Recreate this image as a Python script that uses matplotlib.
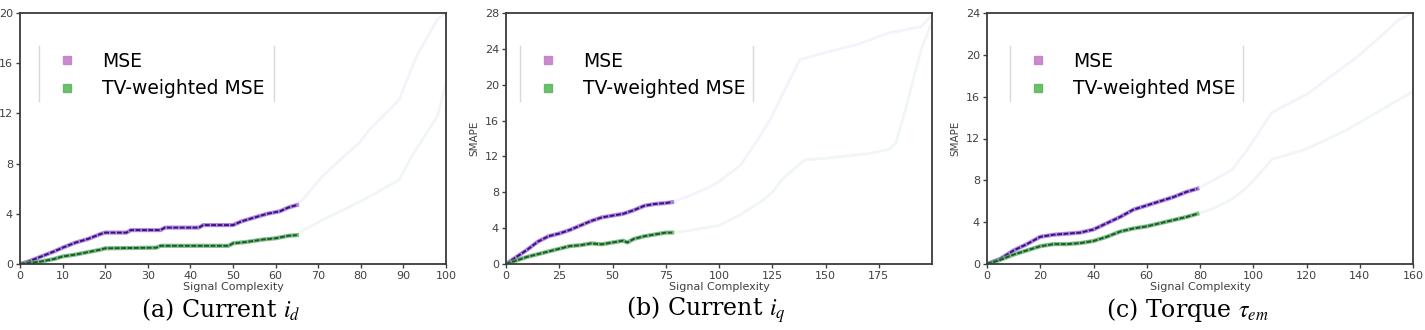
import matplotlib.pyplot as plt
from matplotlib.lines import Line2D

# panel (a): current i_d
a_x_mse = [0, 2, 5, 8, 10, 13, 16, 19, 20, 25, 26, 33, 34, 42, 43, 50, 52, 55, 58, 61, 63, 65,
           66, 71, 80, 82, 89, 93, 98, 100]
a_y_mse = [0, 0.2, 0.6, 1.0, 1.3, 1.7, 2.0, 2.4, 2.5, 2.5, 2.7, 2.7, 2.9, 2.9, 3.1, 3.1, 3.4, 3.7, 4.0, 4.2, 4.5, 4.7,
           5.0, 7.0, 9.8, 10.7, 13.1, 16.5, 19.5, 20.0]
a_x_tv = [0, 5, 8, 10, 13, 16, 19, 20, 32, 33, 49, 50, 53, 57, 60, 63, 65,
          66, 71, 74, 80, 89, 92, 98, 100]
a_y_tv = [0, 0.2, 0.4, 0.6, 0.75, 0.95, 1.15, 1.25, 1.3, 1.45, 1.45, 1.65, 1.75, 1.95, 2.05, 2.25, 2.3,
          2.6, 3.5, 4.0, 5.0, 6.7, 8.6, 11.8, 14.4]

# panel (b): current i_q
b_x_mse = [0, 5, 10, 15, 20, 25, 30, 35, 40, 45, 50, 55, 60, 65, 70, 75, 78,
           85, 95, 100, 110, 118, 124, 130, 138, 150, 165, 180, 185, 195, 200]
b_y_mse = [0, 0.8, 1.6, 2.5, 3.1, 3.4, 3.8, 4.3, 4.8, 5.2, 5.4, 5.6, 6.0, 6.5, 6.7, 6.8, 6.9,
           7.5, 8.5, 9.2, 11.0, 13.8, 16.1, 19.0, 22.8, 23.6, 24.5, 25.8, 26.0, 26.5, 27.8]
b_x_tv = [0, 5, 10, 15, 20, 25, 30, 35, 40, 45, 50, 55, 57, 60, 65, 70, 75, 78,
          85, 95, 100, 110, 120, 125, 130, 140, 150, 170, 180, 183, 188, 195, 200]
b_y_tv = [0, 0.4, 0.8, 1.1, 1.4, 1.7, 2.0, 2.1, 2.3, 2.2, 2.4, 2.6, 2.4, 2.8, 3.1, 3.3, 3.5, 3.5,
          3.7, 4.1, 4.3, 5.5, 7.0, 8.0, 9.5, 11.6, 11.8, 12.3, 12.8, 13.5, 17.6, 24.0, 27.0]

# panel (c): torque tau_em
c_x_mse = [0, 5, 10, 15, 20, 25, 30, 35, 40, 45, 50, 55, 60, 65, 70, 75, 79,
           85, 92, 98, 107, 120, 140, 155, 160]
c_y_mse = [0, 0.5, 1.3, 1.9, 2.6, 2.8, 2.9, 3.0, 3.3, 3.9, 4.5, 5.2, 5.6, 6.0, 6.4, 6.9, 7.2,
           8.0, 9.0, 11.0, 14.5, 16.2, 20.0, 23.4, 24.0]
c_x_tv = [0, 5, 10, 15, 20, 25, 30, 35, 40, 45, 50, 55, 60, 65, 70, 75, 79,
          85, 92, 98, 107, 120, 135, 160]
c_y_tv = [0, 0.4, 0.9, 1.3, 1.7, 1.9, 1.9, 2.0, 2.2, 2.6, 3.1, 3.4, 3.6, 3.9, 4.2, 4.5, 4.8,
          5.3, 6.2, 7.4, 10.0, 11.0, 12.8, 16.5]

panels = [
    dict(xm=a_x_mse, ym=a_y_mse, xt=a_x_tv, yt=a_y_tv, dense=65, xlim=100, xticks=range(0, 101, 10),
         ylim=20, yticks=range(0, 21, 4), ylabel=None, caption=r'(a) Current $i_d$'),
    dict(xm=b_x_mse, ym=b_y_mse, xt=b_x_tv, yt=b_y_tv, dense=78, xlim=200, xticks=range(0, 176, 25),
         ylim=28, yticks=range(0, 29, 4), ylabel='SMAPE', caption=r'(b) Current $i_q$'),
    dict(xm=c_x_mse, ym=c_y_mse, xt=c_x_tv, yt=c_y_tv, dense=79, xlim=160, xticks=range(0, 161, 20),
         ylim=24, yticks=range(0, 25, 4), ylabel='SMAPE', caption=r'(c) Torque $\tau_{em}$'),
]

plt.rcParams['mathtext.fontset'] = 'stix'

fig = plt.figure(figsize=(14.25, 3.3), dpi=100)
lefts = [20, 506, 987]
legend_x = [0.045, 0.033, 0.054]
legend_r = [0.596, 0.58, 0.60]

styles = [('#3d0e80', '#9b6fd6', '#c47ec8'), ('#1a5a2a', '#5fae6a', '#5cb85c')]

for i, p in enumerate(panels):
    ax = fig.add_axes([lefts[i] / 1425, 66 / 330, 426 / 1425, 251 / 330])
    for (xs, ys), (dark, light, _) in zip([(p['xm'], p['ym']), (p['xt'], p['yt'])], styles):
        k = sum(1 for v in xs if v <= p['dense'])
        ax.plot(xs[:k], ys[:k], color=light, lw=3.0, alpha=0.8)
        ax.plot(xs[:k], ys[:k], color=dark, lw=1.4, ls=(0, (2.5, 0.8)))
        ax.plot(xs[k - 1:], ys[k - 1:], color=light, lw=2.0, alpha=0.09)
    ax.set_xlim(0, p['xlim'])
    ax.set_ylim(0, p['ylim'])
    ax.set_xticks(list(p['xticks']))
    ax.set_yticks(list(p['yticks']))
    ax.tick_params(labelsize=8, colors='#404040', length=3, width=1, pad=2)
    for s in ax.spines.values():
        s.set_color('#3a3a3a')
        s.set_linewidth(1.3)
    ax.set_xlabel('Signal Complexity', fontsize=8, color='#404040', labelpad=1)
    if p['ylabel']:
        ax.set_ylabel(p['ylabel'], fontsize=7.5, color='#404040', labelpad=4)

    handles = [Line2D([], [], marker='s', ls='none', color=styles[0][2], markersize=6, alpha=0.9),
               Line2D([], [], marker='s', ls='none', color=styles[1][2], markersize=6, alpha=0.9)]
    ax.legend(handles, ['MSE', 'TV-weighted MSE'], loc='upper left',
              bbox_to_anchor=(legend_x[i] + 0.015, 0.875), frameon=False, fontsize=13.5,
              handlelength=1.5, handletextpad=1.1, labelspacing=0.45, borderaxespad=0)
    for lx in (legend_x[i], legend_r[i]):
        ax.plot([lx, lx], [0.649, 0.868], transform=ax.transAxes, color='#d8d8d8', lw=1.0)

    ax.text(0.47, -0.183, p['caption'], transform=ax.transAxes, ha='center', va='center',
            fontsize=17, family='DejaVu Serif')

fig.savefig('out.png', dpi=100)
